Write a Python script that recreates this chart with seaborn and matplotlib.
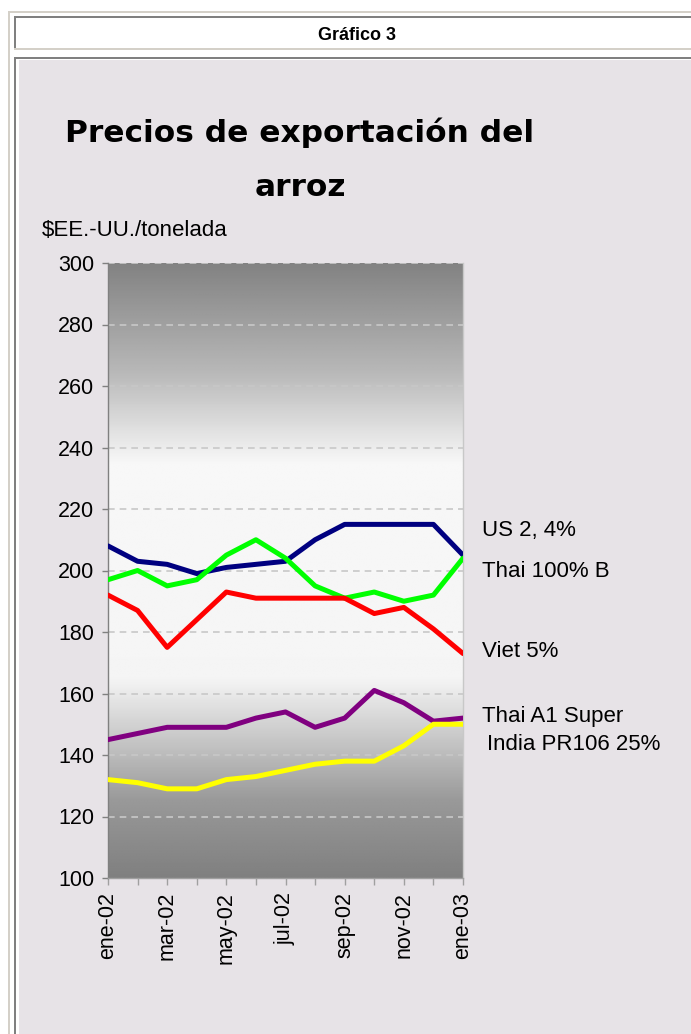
import numpy as np
import pandas as pd
import matplotlib
matplotlib.use("Agg")
import matplotlib.pyplot as plt
import seaborn as sns
from matplotlib.patches import Rectangle

# precios mensuales, $EE.-UU./tonelada
months = ["ene-02", "feb-02", "mar-02", "abr-02", "may-02", "jun-02", "jul-02",
          "ago-02", "sep-02", "oct-02", "nov-02", "dic-02", "ene-03"]
us_2_4 = [208, 203, 202, 199, 201, 202, 203, 210, 215, 215, 215, 215, 205]
thai_100b = [197, 200, 195, 197, 205, 210, 204, 195, 191, 193, 190, 192, 204]
viet_5 = [192, 187, 175, 184, 193, 191, 191, 191, 191, 186, 188, 181, 173]
thai_a1 = [145, 147, 149, 149, 149, 152, 154, 149, 152, 161, 157, 151, 152]
india_pr106 = [132, 131, 129, 129, 132, 133, 135, 137, 138, 138, 143, 150, 150]

series_names = ["US 2, 4%", "Thai 100% B", "Viet 5%", "Thai A1 Super", "India PR106 25%"]
series_values = [us_2_4, thai_100b, viet_5, thai_a1, india_pr106]
colors = ["#000080", "#00FF00", "#FF0000", "#800080", "#FFFF00"]
y_ticks = list(range(100, 301, 20))

df = pd.DataFrame({
    "mes": np.tile(np.arange(len(months)), len(series_names)),
    "precio": np.concatenate(series_values),
    "serie": np.repeat(series_names, len(months)),
})

sns.set_theme(style="white")
plt.rcParams["font.family"] = ["Liberation Sans", "DejaVu Sans"]

W, H = 691, 1034
fig = plt.figure(figsize=(W / 100, H / 100), dpi=100, facecolor="white")


def box(x, y, w, h, color):
    # pixel coords from top-left
    fig.add_artist(Rectangle((x / W, 1 - (y + h) / H), w / W, h / H,
                             transform=fig.transFigure, facecolor=color,
                             edgecolor="none", zorder=-10))


# page frames
box(8, 11, W - 8, 2, "#D4D0C8")
box(8, 11, 2, H - 11, "#D4D0C8")
box(14, 16, W - 14, 33, "#FFFFFF")
box(14, 16, W - 14, 2, "#808080")
box(14, 16, 2, 33, "#808080")
box(14, 48, W - 14, 2, "#D4D0C8")
box(14, 57, W - 14, H - 57, "#FFFFFF")
box(14, 57, W - 14, 2, "#808080")
box(14, 57, 2, H - 57, "#808080")
box(19, 60, W - 19, H - 60, "#E7E3E7")

fig.text(357 / W, 1 - 36 / H, "Gráfico 3", ha="center", va="center",
         fontsize=13, fontweight="bold", color="black")
fig.text(300 / W, 1 - 133 / H, "Precios de exportación del", ha="center",
         va="center", fontsize=22.5, fontweight="bold", color="black",
         family=["DejaVu Sans"])
fig.text(300 / W, 1 - 187 / H, "arroz", ha="center", va="center",
         fontsize=22.5, fontweight="bold", color="black",
         family=["DejaVu Sans"])
fig.text(42 / W, 1 - 230 / H, "$EE.-UU./tonelada", ha="left", va="center",
         fontsize=16, color="black")

ax = fig.add_axes([108 / W, 1 - 878 / H, 355 / W, 615 / H])

# plot-area gradient: dark at top and bottom, white band in the middle
vals = np.linspace(300, 100, 400)
shade = np.interp(vals, [100, 125, 165, 235, 265, 300],
                  [0.50, 0.60, 0.96, 0.97, 0.72, 0.51])
grad = np.repeat(shade[:, None], 2, axis=1)
ax.imshow(grad, cmap="gray", vmin=0, vmax=1, aspect="auto",
          extent=[0, len(months) - 1, 100, 300], zorder=0, interpolation="bilinear")

for v in y_ticks[1:]:
    ax.axhline(v, color="#C8C8C8", lw=1.2, ls=(0, (4, 3)), zorder=1)

sns.lineplot(data=df, x="mes", y="precio", hue="serie", hue_order=series_names,
             palette=colors, linewidth=3.6, legend=False, ax=ax, zorder=3)

ax.set_xlim(0, len(months) - 1)
ax.set_ylim(100, 300)
ax.set_xlabel("")
ax.set_ylabel("")
ax.set_yticks(y_ticks)
ax.set_xticks(range(len(months)))
ax.set_xticklabels([m if i % 2 == 0 else "" for i, m in enumerate(months)],
                   rotation=90)
ax.tick_params(axis="y", left=True, length=4, width=1, color="#808080",
               pad=6, labelsize=15.5, labelcolor="black")
ax.tick_params(axis="x", bottom=True, length=5, width=1, color="#A0A0A0",
               pad=5, labelsize=15.5, labelcolor="black")
ax.spines["top"].set_visible(False)
ax.spines["left"].set_color("#808080")
ax.spines["bottom"].set_color("#A0A0A0")
ax.spines["right"].set_color("#C8C8C8")
for s in ax.spines.values():
    s.set_linewidth(1)

label_y = [213, 199.8, 173.8, 152.4, 143.5]
label_x = [1.053, 1.053, 1.053, 1.053, 1.067]
for name, lx, ly in zip(series_names, label_x, label_y):
    ax.text(lx, ly, name, transform=ax.get_yaxis_transform(), ha="left",
            va="center", fontsize=16, color="black", clip_on=False)

fig.savefig("out.png", dpi=100, facecolor=fig.get_facecolor())
